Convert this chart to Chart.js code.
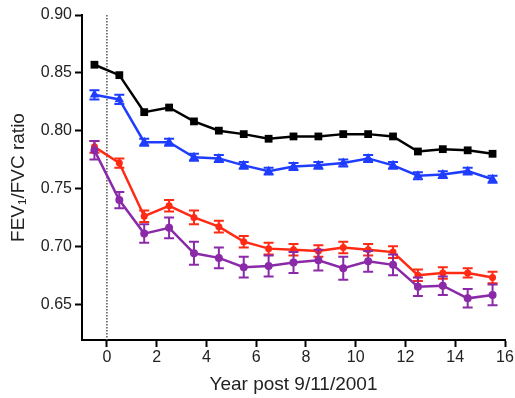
<!DOCTYPE html>
<html>
<head>
<meta charset="utf-8">
<script src="https://cdn.jsdelivr.net/npm/chart.js@4.4.1/dist/chart.umd.min.js"></script>
<style>
    html, body { margin: 0; padding: 0; background: #fff; }
    #wrap { width: 515px; height: 398px; }
</style>
</head>
<body>
<div id="wrap"><canvas id="fevChart"></canvas></div>
<script>
// Years after 9/11 (midpoints of each year)
const years = [-0.5, 0.5, 1.5, 2.5, 3.5, 4.5, 5.5, 6.5, 7.5, 8.5, 9.5, 10.5, 11.5, 12.5, 13.5, 14.5, 15.5];

// FEV1/FVC ratio by group
const blackVals  = [0.857, 0.848, 0.816, 0.820, 0.808, 0.800, 0.797, 0.793, 0.795, 0.795, 0.797, 0.797, 0.795, 0.782, 0.784, 0.783, 0.780];
const blueVals   = [0.831, 0.827, 0.790, 0.790, 0.777, 0.776, 0.770, 0.765, 0.769, 0.770, 0.772, 0.776, 0.770, 0.761, 0.762, 0.765, 0.758];
const redVals    = [0.786, 0.772, 0.726, 0.735, 0.725, 0.717, 0.704, 0.698, 0.697, 0.696, 0.699, 0.697, 0.695, 0.675, 0.677, 0.677, 0.673];
const purpleVals = [0.783, 0.740, 0.711, 0.716, 0.694, 0.690, 0.682, 0.683, 0.686, 0.688, 0.681, 0.687, 0.684, 0.665, 0.666, 0.655, 0.658];

// error bar half-widths (SEM); black ones are hidden by the markers
const blackErr  = [0, 0, 0, 0, 0, 0, 0, 0, 0, 0, 0, 0, 0, 0, 0, 0, 0];
const blueErr   = [0.004, 0.004, 0.003, 0.003, 0.003, 0.003, 0.003, 0.003, 0.003, 0.003, 0.003, 0.003, 0.003, 0.003, 0.003, 0.003, 0.003];
const redErr    = [0.005, 0.004, 0.005, 0.005, 0.006, 0.005, 0.005, 0.005, 0.005, 0.005, 0.005, 0.005, 0.005, 0.005, 0.005, 0.004, 0.005];
const purpleErr = [0.008, 0.007, 0.008, 0.009, 0.010, 0.009, 0.009, 0.009, 0.009, 0.009, 0.010, 0.009, 0.009, 0.008, 0.008, 0.008, 0.009];

// axis ticks
const xTicks = [0, 2, 4, 6, 8, 10, 12, 14, 16];
const yTicks = [0.65, 0.70, 0.75, 0.80, 0.85, 0.90];

const toPoints = vals => vals.map((v, i) => ({ x: years[i], y: v }));

function series(vals, errs, color, style, radius, order) {
    return {
        data: toPoints(vals),
        errors: errs,
        borderColor: color,
        backgroundColor: color,
        borderWidth: 2.5,
        pointStyle: style,
        pointRadius: radius,
        pointBorderWidth: 0,
        tension: 0,
        order: order
    };
}

// error bars drawn right after each dataset
const errorBars = {
    id: 'errorBars',
    afterDatasetDraw(chart, args) {
        const ds = chart.data.datasets[args.index];
        if (!ds.errors) return;
        const { ctx } = chart;
        const y = chart.scales.y;
        ctx.save();
        ctx.strokeStyle = ds.borderColor;
        ctx.lineWidth = 2;
        args.meta.data.forEach((pt, i) => {
            const v = ds.data[i].y;
            const e = ds.errors[i];
            if (!e) return;
            const top = y.getPixelForValue(v + e);
            const bot = y.getPixelForValue(v - e);
            const px = pt.x;
            ctx.beginPath();
            ctx.moveTo(px, top); ctx.lineTo(px, bot);
            ctx.moveTo(px - 5, top); ctx.lineTo(px + 5, top);
            ctx.moveTo(px - 5, bot); ctx.lineTo(px + 5, bot);
            ctx.stroke();
        });
        ctx.restore();
    }
};

// dotted line at year 0
const zeroLine = {
    id: 'zeroLine',
    beforeDatasetsDraw(chart) {
        const { ctx, chartArea } = chart;
        const x = chart.scales.x.getPixelForValue(0);
        ctx.save();
        ctx.strokeStyle = '#555';
        ctx.lineWidth = 1.5;
        ctx.setLineDash([1.5, 1.5]);
        ctx.beginPath();
        ctx.moveTo(x, chartArea.top);
        ctx.lineTo(x, chartArea.bottom);
        ctx.stroke();
        ctx.restore();
    }
};

const tickFont = { family: 'Liberation Sans, Arial, sans-serif', size: 16 };
const titleFont = { family: 'Liberation Sans, Arial, sans-serif', size: 19 };

new Chart(document.getElementById('fevChart'), {
    type: 'line',
    data: {
        datasets: [
            series(blackVals, blackErr, '#000000', 'rect', 5.5, 4),
            series(blueVals, blueErr, '#1f3dff', 'triangle', 5.5, 3),
            series(redVals, redErr, '#ff2a14', 'circle', 3.5, 2),
            series(purpleVals, purpleErr, '#8b2aa8', 'circle', 4, 1)
        ]
    },
    options: {
        responsive: true,
        maintainAspectRatio: false,
        animation: false,
        layout: { padding: { top: 15, right: 10, left: 0, bottom: 0 } },
        plugins: {
            legend: { display: false },
            tooltip: { enabled: false }
        },
        scales: {
            x: {
                type: 'linear',
                min: -1,
                max: 16,
                afterBuildTicks: s => { s.ticks = xTicks.map(v => ({ value: v })); },
                afterFit: s => { s.height = 58; },
                border: { display: true, color: '#000', width: 2 },
                grid: { drawOnChartArea: false, drawTicks: true, tickLength: 7, tickWidth: 2, tickColor: '#000' },
                ticks: { font: tickFont, color: '#222', padding: 1, maxRotation: 0 },
                title: { display: true, text: 'Year post 9/11/2001', font: titleFont, color: '#222', padding: { top: 2, bottom: 2 } }
            },
            y: {
                min: 0.619,
                max: 0.90,
                afterBuildTicks: s => { s.ticks = yTicks.map(v => ({ value: v })); },
                afterFit: s => { s.width = 82; },
                border: { display: true, color: '#000', width: 2 },
                grid: { drawOnChartArea: false, drawTicks: true, tickLength: 7, tickWidth: 2, tickColor: '#000' },
                ticks: { font: tickFont, color: '#222', padding: 3, callback: v => v.toFixed(2) },
                title: { display: true, text: 'FEV\u2081/FVC ratio', font: titleFont, color: '#222', padding: { top: 7, bottom: 0 } }
            }
        }
    },
    plugins: [zeroLine, errorBars]
});
</script>
</body>
</html>
